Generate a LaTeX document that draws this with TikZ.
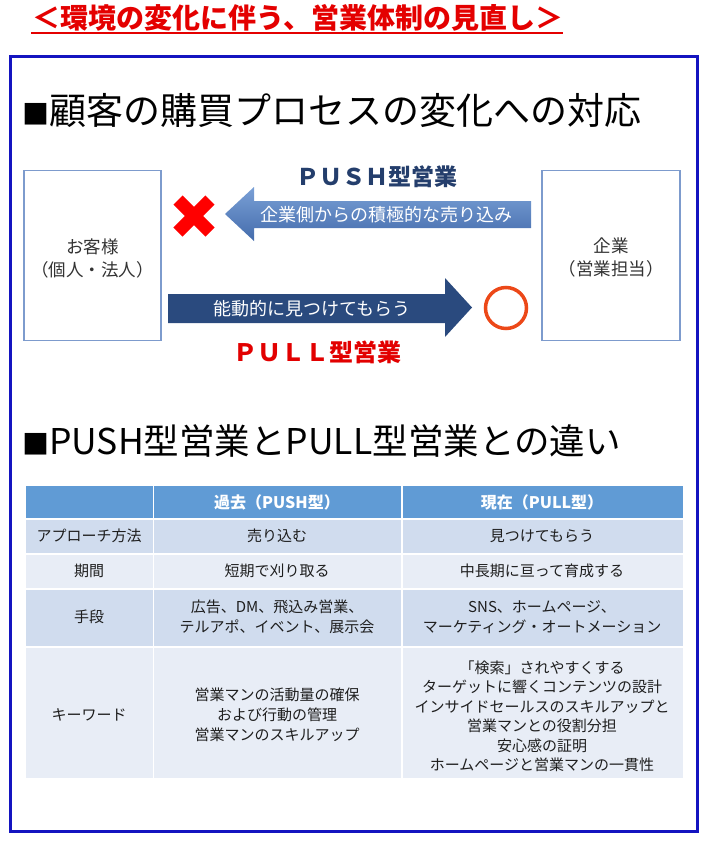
\documentclass[tikz,border=0pt]{standalone}
\usepackage{fontspec}
\setmainfont{Noto Sans CJK JP}
\definecolor{titlered}{RGB}{228,0,0}
\definecolor{frameblue}{RGB}{20,20,192}
\definecolor{boxline}{RGB}{125,155,205}
\definecolor{pushtxt}{RGB}{36,62,108}
\definecolor{pullred}{RGB}{226,0,0}
\definecolor{arrtop}{RGB}{122,160,214}
\definecolor{arrbot}{RGB}{68,108,172}
\definecolor{pullarrow}{RGB}{42,74,126}
\definecolor{circcol}{RGB}{236,72,24}
\definecolor{hdr}{RGB}{96,155,213}
\definecolor{rowdark}{RGB}{208,220,238}
\definecolor{rowlight}{RGB}{232,237,246}
\definecolor{celltxt}{RGB}{30,30,30}
\newcommand{\sqmark}{{\fontsize{27}{27}\selectfont ■}}
\tikzset{
  partbox/.style={draw=boxline, line width=1.5pt, fill=white, inner sep=0pt},
  heading/.style={anchor=west, inner sep=0pt, font=\fontsize{#1}{#1}\selectfont},
  boxlbl/.style={align=center, text=black!80, font=\fontsize{17.5}{23}\selectfont},
  arrlbl/.style={text=white, font=\fontsize{18}{18}\selectfont},
  boldlbl/.style={inner sep=0pt, font=\fontsize{#1}{#1}\selectfont\bfseries},
  hdrtxt/.style={text=white, font=\fontsize{16}{16}\selectfont\bfseries},
  celltext/.style={text=celltxt, align=center, font=\fontsize{15}{#1}\selectfont},
  celltext/.default=19.5
}
\begin{document}
\begin{tikzpicture}[x=1pt,y=-1pt]
\useasboundingbox (0,0) rectangle (704,841);
% title
\node[boldlbl=28, text=titlered] (title) at (298,18) {＜環境の変化に伴う、営業体制の見直し＞};
\draw[titlered, line width=2pt] (31,32.5) -- (563,32.5);
% frame
\draw[frameblue, line width=3pt] (10,56) rectangle (697,831);
% heading 1
\node[heading=37] (h1) at (22,110) {\sqmark 顧客の購買プロセスの変化への対応};
% boxes
\node[partbox, minimum width=137pt, minimum height=170pt] (cust) at (92.5,255.5) {};
\node[boxlbl] (custlbl) at (92.5,258.5) {お客様\\（個人・法人）};
\node[partbox, minimum width=138pt, minimum height=170pt] (corp) at (611,255.5) {};
\node[boxlbl] (corplbl) at (611,257.5) {企業\\（営業担当）};
% PUSH arrow
\shade[top color=arrtop, bottom color=arrbot] (225,214) -- (254,187) -- (254,201) -- (531,201) -- (531,228) -- (254,228) -- (254,241) -- cycle;
\node[arrlbl] (pushmsg) at (386,215) {企業側からの積極的な売り込み};
\node[boldlbl=23, text=pushtxt] (pushlbl) at (377,177) {ＰＵＳＨ型営業};
% red cross
\coordinate (ng) at (194,216);
\draw[red, line width=13pt] ([shift={(-16,-16)}]ng) -- ([shift={(16,16)}]ng);
\draw[red, line width=13pt] ([shift={(-16,16)}]ng) -- ([shift={(16,-16)}]ng);
% PULL arrow
\fill[pullarrow] (168,294) -- (445,294) -- (445,278) -- (472,307.5) -- (445,337) -- (445,323) -- (168,323) -- cycle;
\node[arrlbl] (pullmsg) at (312,309) {能動的に見つけてもらう};
\node[boldlbl=24, text=pullred] (pulllbl) at (317,352) {ＰＵＬＬ型営業};
\node[draw=circcol, line width=3.5pt, circle, minimum size=41pt, inner sep=0pt] (ok) at (506,308) {};
% heading 2
\node[heading=35.5] (h2) at (22,441) {\sqmark PUSH型営業とPULL型営業との違い};
% table fills
\fill[hdr] (26,486) rectangle (152.5,518);
\fill[hdr] (154,486) rectangle (401,518);
\fill[hdr] (402.5,486) rectangle (683,518);
\foreach \ya/\yb/\c in {519.5/553/rowdark, 555/588/rowlight, 589.5/646/rowdark, 647.5/778/rowlight}{
  \fill[\c] (26,\ya) rectangle (152.5,\yb);
  \fill[\c] (154,\ya) rectangle (401,\yb);
  \fill[\c] (402.5,\ya) rectangle (683,\yb);
}
% header text
\node[hdrtxt] (hpast) at (277,502) {過去（PUSH型）};
\node[hdrtxt] (hnow) at (542,502) {現在（PULL型）};
% row 1
\node[celltext] (r1a) at (89,536) {アプローチ方法};
\node[celltext] (r1b) at (277,536) {売り込む};
\node[celltext] (r1c) at (542,536) {見つけてもらう};
% row 2
\node[celltext] (r2a) at (89,571) {期間};
\node[celltext] (r2b) at (277,571) {短期で刈り取る};
\node[celltext] (r2c) at (542,571) {中長期に亘って育成する};
% row 3
\node[celltext] (r3a) at (89,617) {手段};
\node[celltext=20] (r3b) at (277,617) {広告、DM、飛込み営業、\\テルアポ、イベント、展示会};
\node[celltext=20] (r3c) at (542,617) {SNS、ホームページ、\\マーケティング・オートメーション};
% row 4
\node[celltext] (r4a) at (89,715) {キーワード};
\node[celltext=20] (r4b) at (277,715) {営業マンの活動量の確保\\および行動の管理\\営業マンのスキルアップ};
\node[celltext=19.5] (r4c) at (542,716.5) {「検索」されやすくする\\ターゲットに響くコンテンツの設計\\インサイドセールスのスキルアップと\\営業マンとの役割分担\\安心感の証明\\ホームページと営業マンの一貫性};
\end{tikzpicture}
\end{document}
